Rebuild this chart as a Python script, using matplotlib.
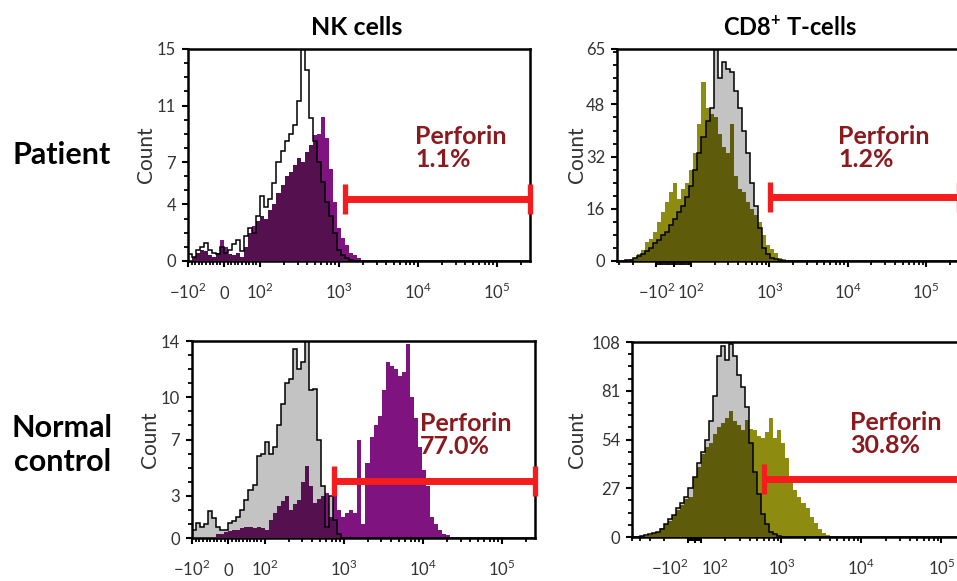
import numpy as np
import matplotlib
matplotlib.use("Agg")
import matplotlib.pyplot as plt
from matplotlib.ticker import FixedLocator, MultipleLocator

plt.rcParams["font.family"] = ["Lato", "DejaVu Sans"]
plt.rcParams["mathtext.fontset"] = "custom"
plt.rcParams["mathtext.rm"] = "Lato"
plt.rcParams["mathtext.bf"] = "Lato:bold"

NBINS = 85          # equal-width bins across each plot
XMAX = 262144       # top of the cytometer range

# counts per bin (unlisted bins are empty)
nk_patient_ctrl = [0.5, 0.3, 0.8, 1.0, 1.3, 0.8, 0.6, 0.5, 1.0, 0.6,
                   0.8, 1.2, 1.5, 0.7, 1.8, 2.3, 2.0, 3.2, 4.6, 3.8,
                   4.4, 5.5, 7.0, 7.8, 8.5, 9.0, 9.6, 11.3, 15.0, 13.5,
                   10.1, 8.5, 7.0, 5.6, 4.2, 3.2, 2.0, 0.8, 0.4, 0.2, 0.1]
nk_patient_perf = [0, 0.3, 0.6, 0.8, 0.7, 0.4, 0.3, 0.6, 1.5, 1.0,
                   0.5, 0.4, 0.6, 0.3, 1.0, 2.0, 2.5, 2.8, 3.2, 3.0,
                   3.6, 4.0, 4.8, 5.4, 6.0, 6.3, 6.8, 7.3, 7.0, 7.7,
                   8.2, 8.9, 9.0, 10.2, 8.7, 6.5, 4.2, 2.3, 1.6, 1.1,
                   0.6, 0.4, 0.2]
cd8_patient_ctrl = [0, 0, 0.2, 0.4, 0.8, 1.5, 2.2, 3.0, 4.0, 5.5,
                    6.5, 8, 9, 11, 13, 15, 17, 19.5, 23, 28,
                    33, 38, 43, 47, 65, 56, 61, 59, 58, 52,
                    47, 40, 33, 24, 17, 10, 4, 2, 1, 0.5, 0.2]
cd8_patient_perf = [0, 0, 0, 0.5, 1, 2, 3.5, 5.7, 6.7, 9,
                    12, 15, 18, 21, 24, 19, 22, 24, 28, 33,
                    42, 55, 47, 45, 44, 39, 35, 33, 42, 26,
                    22, 21, 18, 16, 14, 12, 8, 5, 3.6, 2.6, 1, 0.5]
nk_normal_ctrl = [0.6, 1.1, 0.8, 1.0, 1.9, 1.4, 0.8, 0.6, 0.6, 1.1,
                  1.2, 1.5, 2.0, 2.7, 3.4, 3.8, 5.8, 6.0, 6.8, 6.0,
                  6.5, 8.0, 9.5, 11.0, 11.3, 13.4, 12.0, 12.5, 14.0, 10.5,
                  10.6, 7.0, 3.7, 0.8, 3.0, 1.3, 0.3]
nk_normal_perf = [0, 0, 0, 0, 0, 0, 0.3, 0.3, 0.4, 0.5,
                  0.6, 0.6, 0.7, 0.8, 0.8, 0.7, 0.8, 0.7, 0.6, 1.3,
                  1.8, 2.3, 2.6, 3.0, 2.0, 2.4, 2.7, 4.0, 5.1, 3.7,
                  2.5, 2.8, 3.0, 3.2, 1.5, 3.2, 2.0, 1.5, 1.8, 2.0,
                  1.8, 7.0, 1.0, 5.3, 7.2, 8.0, 8.7, 10.5, 12.5, 12.2,
                  12.0, 11.5, 11.8, 13.8, 10.0, 8.5, 6.5, 4.8, 3.7, 1.5,
                  1.0, 0.6, 0.3, 0.2]
cd8_normal_ctrl = [0, 0, 0.5, 1, 1.5, 2, 3, 4.5, 7, 10,
                   12, 16, 19, 22, 27, 33, 41, 47, 54, 64,
                   78, 100, 106, 98, 107, 100, 90, 83, 72, 52,
                   36, 24, 13, 7, 3, 1.5, 0.5]
cd8_normal_perf = [0, 0, 0, 0.5, 1, 2, 3, 5, 7, 9,
                   12, 15, 18, 21, 22, 33, 39, 46, 50, 52,
                   57, 61, 63, 66, 70, 64, 62, 59, 65, 60,
                   59, 56, 55, 58, 66, 55, 59, 52, 44, 30,
                   26, 22, 19, 16, 11, 8, 4.5, 2.5, 1, 0.3]

y_ticks = {"nk_patient": [0, 4, 7, 11, 15], "cd8_patient": [0, 16, 32, 48, 65],
           "nk_normal": [0, 3, 7, 10, 14], "cd8_normal": [0, 27, 54, 81, 108]}
perforin_pct = {"nk_patient": "1.1%", "cd8_patient": "1.2%",
                "nk_normal": "77.0%", "cd8_normal": "30.8%"}
gate_start = {"nk_patient": 1180, "cd8_patient": 1030, "nk_normal": 750, "cd8_normal": 600}
gate_level = {"nk_patient": 4.4, "cd8_patient": 19.5, "nk_normal": 4.05, "cd8_normal": 32}

x_tick_vals = [-100, 0, 100, 1000, 10000, 100000]
x_tick_labels = [r"$-10^{2}$", "0", r"$10^{2}$", r"$10^{3}$", r"$10^{4}$", r"$10^{5}$"]

GREY = "#c3c3c3"
RED = "#f41c1c"
TXT_RED = "#8b1a1e"
NK_COL = ("#7f1380", "#55104f")
CD8_COL = ("#8e8c10", "#5e5b0b")


def padded(v):
    return np.r_[v, np.zeros(NBINS - len(v))]


def bin_edges(ax):
    # equal-width bins on screen, mapped back through the axis scale
    tr = ax.xaxis.get_transform()
    lo, hi = tr.transform(np.array(ax.get_xlim(), dtype=float))
    return tr.inverted().transform(np.linspace(lo, hi, NBINS + 1))


def draw_panel(ax, key, ctrl, perf, cols, xmin, linscale, minor_y, show_zero, text_xy,
               ylab_x, grey_fill=True, squeeze_labels=False):
    ax.set_xscale("symlog", linthresh=100, linscale=linscale, base=10)
    ax.set_xlim(xmin, XMAX)
    ymax = y_ticks[key][-1]
    ax.set_ylim(0, ymax)

    edges = bin_edges(ax)
    ctrl = padded(ctrl)
    perf = padded(perf)
    if grey_fill:
        ax.stairs(ctrl, edges, fill=True, color=GREY, zorder=1)
    ax.stairs(perf, edges, fill=True, color=cols[0], zorder=2)
    ax.stairs(np.minimum(ctrl, perf), edges, fill=True, color=cols[1], zorder=3)
    ax.stairs(ctrl, edges, color="black", lw=1.1, zorder=4)

    # gate bar
    y = gate_level[key]
    ax.plot([gate_start[key], XMAX], [y, y], color=RED, lw=5, marker="|", ms=22,
            mew=3.8, solid_capstyle="butt", clip_on=False, zorder=6)
    ax.text(text_xy[0], text_xy[1], "Perforin\n" + perforin_pct[key], transform=ax.transAxes,
            ha="left", va="center", fontsize=18, fontweight="bold", color=TXT_RED,
            linespacing=1.0, zorder=7)

    labels = list(x_tick_labels)
    if not show_zero:
        labels[1] = ""
    ax.set_xticks(x_tick_vals, labels)
    for lab in ax.get_xticklabels():
        lab.set_verticalalignment("baseline")
    if squeeze_labels:
        # -10^2 and 10^2 sit close together here
        ax.get_xticklabels()[0].set_horizontalalignment("right")
        ax.get_xticklabels()[2].set_horizontalalignment("left")
    minors = [m * 10 ** d for d in (2, 3, 4) for m in range(2, 10)] + [200000]
    minors += [s * v for s in (-1, 1) for v in range(10, 100, 10)]
    minors += [-m * 100 for m in range(2, 10)]
    ax.xaxis.set_minor_locator(FixedLocator(minors))

    ax.set_yticks(y_ticks[key])
    ax.yaxis.set_minor_locator(MultipleLocator(minor_y))

    ax.tick_params(which="major", direction="out", length=4.5, width=1.5,
                   labelsize=12, labelcolor="#333333", pad=4)
    ax.tick_params(which="minor", direction="out", length=3, width=1.3)
    ax.tick_params(axis="x", which="major", pad=23)
    for s in ax.spines.values():
        s.set_linewidth(1.8)
    ax.set_ylabel("Count", fontsize=15, color="#333333")
    ax.yaxis.set_label_coords(ylab_x, 0.5)


fig = plt.figure(figsize=(9.57, 5.81), dpi=100)

ax1 = fig.add_axes([0.1964, 0.5508, 0.3574, 0.3649])
draw_panel(ax1, "nk_patient", nk_patient_ctrl, nk_patient_perf, NK_COL,
           -100, 0.41, 1, True, (0.664, 0.535), -0.094, grey_fill=False)
ax2 = fig.add_axes([0.6447, 0.5508, 0.3574, 0.3649])
draw_panel(ax2, "cd8_patient", cd8_patient_ctrl, cd8_patient_perf, CD8_COL,
           -316, 0.2, 4, False, (0.646, 0.535), -0.088)
ax3 = fig.add_axes([0.2006, 0.074, 0.3584, 0.339])
draw_panel(ax3, "nk_normal", nk_normal_ctrl, nk_normal_perf, NK_COL,
           -100, 0.414, 1, True, (0.665, 0.525), -0.093)
ax4 = fig.add_axes([0.6604, 0.0757, 0.3584, 0.3356])
draw_panel(ax4, "cd8_normal", cd8_normal_ctrl, cd8_normal_perf, CD8_COL,
           -500, 0.075, 6.75, False, (0.636, 0.53), -0.131, squeeze_labels=True)

fig.text(0.373, 0.952, "NK cells", ha="center", va="center", fontsize=18, fontweight="bold")
fig.text(0.8255, 0.952, r"CD8$^{\mathbf{+}}$ T-cells", ha="center", va="center",
         fontsize=17, fontweight="bold")
fig.text(0.064, 0.733, "Patient", ha="center", va="center", fontsize=22, fontweight="bold")
fig.text(0.065, 0.234, "Normal\ncontrol", ha="center", va="center", fontsize=22,
         fontweight="bold", linespacing=1.3)

fig.savefig("out.png", dpi=100)
